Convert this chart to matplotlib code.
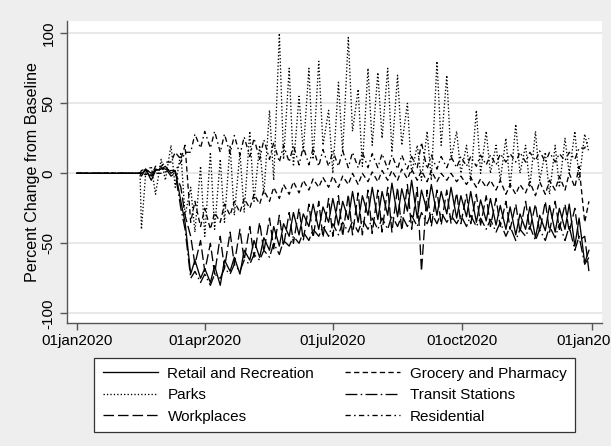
import numpy as np
import pandas as pd
import matplotlib
matplotlib.use("Agg")
import matplotlib.pyplot as plt

# weekly readings: Sunday (weekend) and Wednesday (weekday), weeks from 16feb2020
week_start = "2020-02-16"
n_weeks = 46

retail_we = [-2, -5, 3, 0, -20, -72, -75, -78, -80, -70, -72, -62, -60, -55, -52, -45,
             -44, -38, -40, -35, -37, -33, -35, -30, -33, -30, -31, -27, -32, -27, -30, -29,
             -32, -31, -35, -34, -37, -40, -44, -40, -46, -41, -42, -40, -52, -64]
retail_wd = [3, 2, 5, 2, -35, -62, -68, -66, -62, -60, -55, -48, -46, -38, -36, -28,
             -29, -22, -24, -18, -20, -13, -16, -10, -13, -7, -11, -5, -12, -8, -13, -10,
             -16, -13, -19, -18, -23, -24, -29, -24, -30, -23, -25, -22, -32, -55]

grocery_we = [0, -2, 5, 8, 10, -35, -38, -40, -35, -30, -28, -25, -22, -20, -18, -15,
              -14, -12, -10, -10, -10, -8, -8, -6, -6, -5, -5, -4, -5, -6, -6, -5,
              -6, -8, -10, -10, -12, -15, -15, -14, -16, -15, -12, -12, -10, -35]
grocery_wd = [3, 5, 8, 15, 20, -20, -25, -28, -22, -20, -18, -15, -12, -10, -8, -6,
              -5, -4, -3, -2, -2, 0, 0, 1, 2, 2, 3, 3, 2, 2, 0, 0,
              -2, -3, -4, -5, -5, -8, -8, -6, -6, -5, -2, 0, 5, -20]

parks_we = [-40, 5, 10, 20, 15, -10, 5, 15, 10, 20, 15, 30, 20, 45, 100, 75,
            55, 75, 80, 45, 65, 97, 60, 75, 72, 75, 70, 50, 20, 30, 80, 70,
            30, 20, 45, 30, 20, 25, 35, 20, 30, 15, 20, 25, 30, 28]
parks_wd = [0, -15, -5, -10, -30, -42, -45, -40, -35, -30, -28, -20, -15, -5, 10, 5,
            15, 10, 20, 0, 15, 30, 5, 20, 25, 15, 20, 0, -5, -5, 20, 10,
            0, -5, 0, 0, -5, -10, 0, -10, -5, -15, -10, 0, -5, 15]

transit_we = [0, -3, 2, -2, -25, -75, -78, -80, -75, -72, -70, -65, -62, -60, -58, -52,
              -50, -48, -45, -45, -44, -42, -42, -40, -40, -40, -38, -38, -38, -36, -36, -35,
              -36, -38, -38, -40, -42, -45, -48, -45, -48, -48, -46, -48, -55, -65]
transit_wd = [2, 3, 4, 0, -40, -70, -72, -72, -68, -65, -62, -58, -55, -50, -48, -45,
              -42, -40, -38, -36, -35, -34, -33, -32, -32, -30, -30, -30, -28, -28, -28, -30,
              -30, -30, -32, -33, -35, -38, -40, -38, -40, -38, -36, -38, -45, -60]

work_we = [2, 0, 4, 2, -10, -45, -48, -50, -45, -42, -40, -38, -35, -32, -30, -28,
           -25, -22, -20, -18, -16, -15, -14, -12, -12, -10, -10, -8, -10, -12, -12, -12,
           -14, -15, -15, -16, -18, -20, -22, -20, -22, -20, -20, -22, -25, -45]
work_wd = [3, 2, 3, 1, -30, -65, -70, -72, -68, -65, -62, -60, -56, -54, -52, -50,
           -48, -46, -46, -45, -45, -44, -44, -43, -42, -42, -41, -40, -70, -38, -37, -36,
           -36, -36, -37, -38, -38, -40, -42, -40, -42, -42, -40, -42, -48, -70]

resid_we = [0, 1, 0, 2, 8, 15, 18, 18, 15, 14, 13, 12, 10, 10, 8, 8,
            6, 6, 5, 5, 5, 4, 4, 4, 4, 3, 3, 3, 4, 3, 3, 4,
            4, 5, 5, 6, 6, 8, 8, 8, 9, 8, 8, 9, 10, 18]
resid_wd = [-1, 0, 1, 2, 15, 28, 30, 30, 28, 27, 26, 25, 24, 22, 20, 20,
            19, 18, 17, 16, 16, 15, 15, 14, 14, 13, 13, 12, 22, 13, 12, 12,
            12, 12, 13, 13, 14, 14, 15, 15, 16, 15, 14, 15, 18, 25]

# series is 0 before mobility data starts
baseline_dates = ["2020-01-01", "2020-02-15"]
baseline_vals = [0, 0]

tick_dates = ["2020-01-01", "2020-04-01", "2020-07-01", "2020-10-01", "2021-01-01"]
tick_labels = ["01jan2020", "01apr2020", "01jul2020", "01oct2020", "01jan2021"]
y_ticks = [-100, -50, 0, 50, 100]

series = [
    ("Retail and Recreation", retail_we, retail_wd, "-"),
    ("Parks", parks_we, parks_wd, (0, (1, 1.6))),
    ("Workplaces", work_we, work_wd, (0, (8, 3))),
    ("Grocery and Pharmacy", grocery_we, grocery_wd, (0, (4, 2.5))),
    ("Transit Stations", transit_we, transit_wd, (0, (9, 2.5, 1.2, 2.5))),
    ("Residential", resid_we, resid_wd, (0, (4, 2.5, 1.2, 2.5))),
]

sundays = pd.date_range(week_start, periods=n_weeks, freq="7D")
wednesdays = sundays + pd.Timedelta(days=3)

plt.rcParams["font.family"] = ["Liberation Sans", "DejaVu Sans"]
plt.rcParams["font.size"] = 11

fig = plt.figure(figsize=(6.11, 4.46), dpi=100, facecolor="#eeeeee")
ax = fig.add_axes([0.1092, 0.2765, 0.8761, 0.6771])
ax.set_facecolor("white")

for name, we, wd, ls in series:
    x = list(pd.to_datetime(baseline_dates))
    y = list(baseline_vals)
    for k in range(n_weeks):
        x += [sundays[k], wednesdays[k]]
        y += [we[k], wd[k]]
    ax.plot(x, y, color="black", lw=0.95, linestyle=ls, label=name)

ax.set_xlim(pd.Timestamp("2020-01-01") - pd.Timedelta(days=7.1),
            pd.Timestamp("2020-01-01") + pd.Timedelta(days=373.3))
ax.set_ylim(-106.7, 109.0)
ax.set_xticks(pd.to_datetime(tick_dates))
ax.set_xticklabels(tick_labels)
ax.set_yticks(y_ticks)
ax.set_yticklabels([str(v) for v in y_ticks], rotation=90, va="center")
ax.grid(axis="y", color="#e4e4e4", lw=1.2)
ax.set_axisbelow(True)
for s in ["top", "right"]:
    ax.spines[s].set_visible(False)
for s in ["left", "bottom"]:
    ax.spines[s].set_color("#555555")
    ax.spines[s].set_linewidth(1.0)
ax.tick_params(color="#555555", length=5, width=1.0, pad=3)
ax.set_ylabel("Percent Change from Baseline", labelpad=1, fontsize=11.6)

leg = fig.legend(loc="upper center", bbox_to_anchor=(0.5475, 0.197), ncol=2,
                 frameon=True, fancybox=False, edgecolor="#333333", facecolor="white",
                 framealpha=1, handlelength=3.6, columnspacing=2.0, labelspacing=0.5,
                 borderpad=0.55, handletextpad=0.65, borderaxespad=0)
leg.get_frame().set_linewidth(0.9)

fig.savefig("out.png", dpi=100, facecolor=fig.get_facecolor())
